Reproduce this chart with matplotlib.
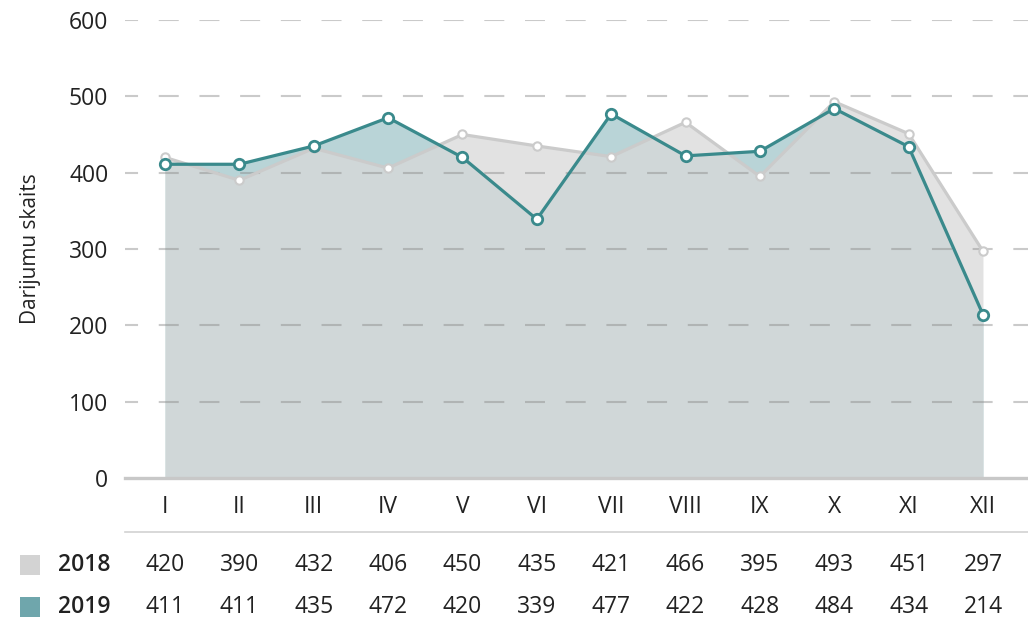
import numpy as np
import matplotlib.pyplot as plt
from matplotlib.patches import Rectangle

plt.rcParams['font.family'] = ['Open Sans', 'DejaVu Sans']
plt.rcParams['lines.scale_dashes'] = False

months = ['I', 'II', 'III', 'IV', 'V', 'VI', 'VII', 'VIII', 'IX', 'X', 'XI', 'XII']
v2018 = [420, 390, 432, 406, 450, 435, 421, 466, 395, 493, 451, 297]
v2019 = [411, 411, 435, 472, 420, 339, 477, 422, 428, 484, 434, 214]
yticks = [0, 100, 200, 300, 400, 500, 600]

txt = '#222222'
teal = '#3a8a8c'
fs = 16.5
x = np.arange(len(months))

W, H = 1028, 642
fig = plt.figure(figsize=(W / 100, H / 100), dpi=100)
# axes: x 125..1028 px, y 20..478 px
ax = fig.add_axes([125 / W, (H - 478) / H, (W - 125) / W, (478 - 20) / H])

ax.set_xlim(-40 / 74.36, 11 + 45 / 74.36)
ax.set_ylim(0, 600)

# fills
ax.fill_between(x, 0, v2019, color='#b9d4d7', lw=0, zorder=1)
ax.fill_between(x, 0, v2018, color='#d9d9d9', alpha=0.74, lw=0, zorder=2)

# grid
for t in yticks[1:]:
    ax.axhline(t, color='#8a8a8a', alpha=0.45, lw=1.5, zorder=3,
               linestyle=(5.0, (14.4, 14.9)))

# lines
ax.plot(x, v2018, color='#cbcbcb', lw=2.3, zorder=4,
        marker='o', ms=6, mfc='white', mec='#cbcbcb', mew=1.5)
ax.plot(x, v2019, color=teal, lw=2.3, zorder=5,
        marker='o', ms=7.5, mfc='white', mec=teal, mew=2)

for s in ['top', 'right', 'left']:
    ax.spines[s].set_visible(False)
ax.spines['bottom'].set_color('#c8c8c8')
ax.spines['bottom'].set_linewidth(2.4)
ax.spines['bottom'].set_zorder(6)

ax.set_yticks(yticks)
ax.set_yticklabels([str(t) for t in yticks], fontsize=fs, color=txt)
ax.tick_params(axis='y', length=0, pad=12)
ax.set_xticks([])
ax.set_ylabel('Darijumu skaits', fontsize=15, color=txt, labelpad=20)

# month labels and table
tr = ax.get_xaxis_transform()
hp = 458.0
for i, m in enumerate(months):
    ax.text(i, (478 - 507) / hp, m, transform=tr, ha='center', va='center',
            fontsize=fs, color=txt)
    ax.text(i, (478 - 565) / hp, str(v2018[i]), transform=tr, ha='center',
            va='center', fontsize=fs, color=txt)
    ax.text(i, (478 - 607) / hp, str(v2019[i]), transform=tr, ha='center',
            va='center', fontsize=fs, color=txt)

ax.plot([0, 1], [(478 - 532) / hp] * 2, transform=ax.transAxes, clip_on=False,
        color='#d2d2d2', lw=1.2)

# legend squares
fig.add_artist(Rectangle((20 / W, (H - 575) / H), 20 / W, 20 / H,
                         transform=fig.transFigure, color='#d3d3d3', lw=0))
fig.add_artist(Rectangle((20 / W, (H - 617) / H), 20 / W, 20 / H,
                         transform=fig.transFigure, color='#6fa6ac', lw=0))
fig.text(58 / W, (H - 565) / H, '2018', ha='left', va='center',
         fontsize=fs, color=txt, fontweight='semibold')
fig.text(58 / W, (H - 607) / H, '2019', ha='left', va='center',
         fontsize=fs, color=txt, fontweight='semibold')

fig.savefig('out.png', dpi=100)
